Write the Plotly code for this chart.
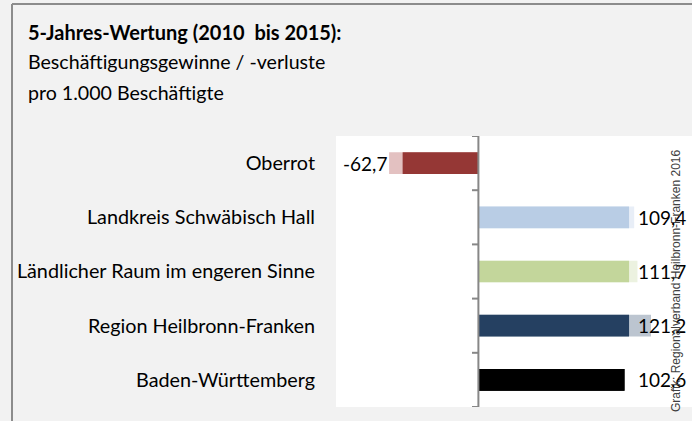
import plotly.graph_objects as go

# ---- data ----
categories = ["Oberrot", "Landkreis Schwäbisch Hall", "Ländlicher Raum im engeren Sinne",
              "Region Heilbronn-Franken", "Baden-Württemberg"]
values = [-62.7, 109.4, 111.7, 121.2, 102.6]          # full value (light part)
solid_values = [-53.2, 105.8, 105.8, 105.8, 102.6]    # dark part
solid_colors = ["#953735", "#b9cde5", "#c3d69b", "#254061", "#000000"]
light_colors = ["#e3c1c1", "#e8eef7", "#ecf2e0", "#bcc5d0", "#000000"]
value_labels = [f"{v:.1f}".replace(".", ",") for v in values]

W, H = 692, 421
L, R, T, B = 336, 0, 136, 14
PW, PH = W - L - R, H - T - B
XR = [-100, 150]

def px(xp):
    return (xp - L) / PW

def py(yp):
    return (H - B - yp) / PH

FONT = "Lato"

fig = go.Figure()
fig.add_trace(go.Bar(y=categories, x=values, orientation="h",
                     marker=dict(color=light_colors, line=dict(width=0)),
                     width=0.4, hoverinfo="skip", showlegend=False))
fig.add_trace(go.Bar(y=categories, x=solid_values, orientation="h",
                     marker=dict(color=solid_colors, line=dict(width=0)),
                     width=0.4, showlegend=False))

annotations = []
for cat, v, lab in zip(categories, values, value_labels):
    if v < 0:
        annotations.append(dict(x=v, y=cat, xref="x", yref="y", text=lab, showarrow=False,
                                xanchor="right", yanchor="middle",
                                font=dict(family=FONT, size=19, color="#000000")))
    else:
        annotations.append(dict(x=111.0, y=cat, xref="x", yref="y", text=lab, showarrow=False,
                                xanchor="left", yanchor="middle",
                                font=dict(family=FONT, size=19, color="#000000")))

annotations += [
    dict(x=px(26), y=py(32), xref="paper", yref="paper", xanchor="left", yanchor="middle",
         text="<b>5-Jahres-Wertung (2010  bis 2015):</b>", showarrow=False,
         font=dict(family=FONT, size=20, color="#000000")),
    dict(x=px(26), y=py(61), xref="paper", yref="paper", xanchor="left", yanchor="middle",
         text="Beschäftigungsgewinne / -verluste", showarrow=False,
         font=dict(family=FONT, size=19.6, color="#000000")),
    dict(x=px(26), y=py(92), xref="paper", yref="paper", xanchor="left", yanchor="middle",
         text="pro 1.000 Beschäftigte", showarrow=False,
         font=dict(family=FONT, size=19.6, color="#000000")),
    dict(x=px(676), y=py(281), xref="paper", yref="paper", xanchor="center", yanchor="middle",
         text="Grafik: Regionalverband Heilbronn-Franken 2016", textangle=-90, showarrow=False,
         font=dict(family="Liberation Sans", size=12, color="#404040")),
]

shapes = []
axis_col = "#878787"
# value axis line at zero with ticks at category boundaries
shapes.append(dict(type="line", xref="x", yref="y", x0=0, x1=0, y0=-0.5, y1=len(categories) - 0.5,
                   line=dict(color=axis_col, width=2), layer="above"))
for i in range(len(categories) + 1):
    shapes.append(dict(type="line", xref="x", yref="y", x0=-4.5, x1=0, y0=i - 0.5, y1=i - 0.5,
                       line=dict(color=axis_col, width=2), layer="above"))
# outer frame (top and left)
shapes.append(dict(type="line", xref="paper", yref="paper", x0=px(12), x1=px(W + 5), y0=py(4), y1=py(4),
                   line=dict(color="#8c8c8c", width=2)))
shapes.append(dict(type="line", xref="paper", yref="paper", x0=px(12), x1=px(12), y0=py(4), y1=py(H + 5),
                   line=dict(color="#8c8c8c", width=2)))

fig.update_layout(
    width=W, height=H,
    margin=dict(l=L, r=R, t=T, b=B, pad=0),
    paper_bgcolor="#f2f2f2", plot_bgcolor="#ffffff",
    barmode="overlay",
    xaxis=dict(range=XR, visible=False, showgrid=False, zeroline=False, fixedrange=True),
    yaxis=dict(type="category", categoryorder="array", categoryarray=categories,
               range=[len(categories) - 0.5, -0.5], showgrid=False, zeroline=False,
               showline=False, ticks="", ticklabelstandoff=20,
               tickfont=dict(family=FONT, size=19.8, color="#000000"), fixedrange=True),
    annotations=annotations, shapes=shapes,
    font=dict(family=FONT),
)

fig.write_html("out.html", config={"displayModeBar": False},
               post_script="document.body.style.margin='0';document.body.style.overflow='hidden';")
